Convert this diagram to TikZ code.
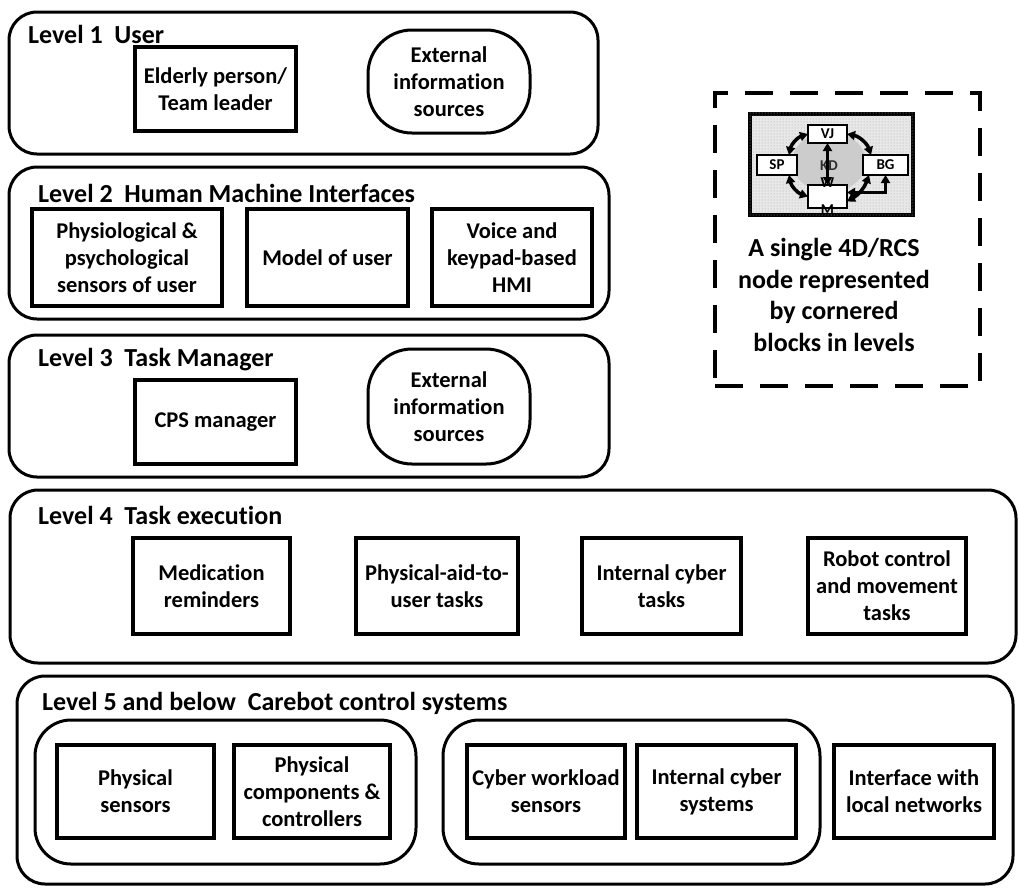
\documentclass[tikz,border=0pt]{standalone}
\usepackage{fontspec}
\setmainfont{Carlito}[Ligatures=NoCommon]
\usetikzlibrary{arrows.meta,patterns,shapes.geometric}

\tikzset{
  level/.style={draw, line width=3pt, rounded corners=28pt, inner sep=0pt, outer sep=0pt},
  group/.style={draw, line width=3pt, rounded corners=36pt, inner sep=0pt, outer sep=0pt},
  block/.style={draw, fill=white, line width=3.5pt, inner sep=2pt, outer sep=0pt, align=center,
                font=\fontsize{22.5}{27}\selectfont\bfseries},
  source/.style={block, line width=3pt, rounded corners=44pt},
  title/.style={anchor=west, inner sep=0pt, font=\fontsize{26}{30}\selectfont\bfseries},
  mini/.style={draw, fill=white, line width=2.5pt, inner sep=0pt, outer sep=0pt,
               font=\fontsize{15}{15}\selectfont\bfseries},
  link/.style={line width=3.5pt, {Triangle[length=8pt,width=9pt]}-{Triangle[length=8pt,width=9pt]}},
}

\begin{document}
\begin{tikzpicture}[x=1pt,y=-1pt]
\useasboundingbox (0,0) rectangle (1019,887);

% ---------- Level 1 ----------
\node[level, minimum width=589pt, minimum height=142pt] (lvl1) at (303.5,83) {};
\node[title] (t1) at (28,34) {Level 1\ \ User};
\node[block, minimum width=161pt, minimum height=84pt] (elderly) at (215.5,89) {Elderly person/\\Team leader};
\node[source, minimum width=162pt, minimum height=103pt] (ext1) at (449,81.5) {External\\information\\sources};

% ---------- Level 2 ----------
\node[level, minimum width=600pt, minimum height=152pt] (lvl2) at (309,243) {};
\node[title] (t2) at (38,193) {Level 2\ \ Human Machine Interfaces};
\node[block, minimum width=190pt, minimum height=97pt] (physio) at (127,257.5) {Physiological \&\\psychological\\sensors of user};
\node[block, minimum width=161pt, minimum height=97pt] (model) at (327.5,257.5) {Model of user};
\node[block, minimum width=160pt, minimum height=97pt] (voice) at (512,257.5) {Voice and\\keypad-based\\HMI};

% ---------- Level 3 ----------
\node[level, minimum width=600pt, minimum height=142pt] (lvl3) at (309,406) {};
\node[title] (t3) at (38,360) {Level 3\ \ Task Manager};
\node[block, minimum width=161pt, minimum height=84pt] (cps) at (215.5,422) {CPS manager};
\node[source, minimum width=162pt, minimum height=115pt] (ext3) at (449,406.5) {External\\information\\sources};

% ---------- Level 4 ----------
\node[level, minimum width=1006pt, minimum height=173pt] (lvl4) at (513,576.5) {};
\node[title] (t4) at (38,515) {Level 4\ \ Task execution};
\node[block, minimum width=157pt, minimum height=96pt] (med) at (211.5,586) {Medication\\reminders};
\node[block, minimum width=162pt, minimum height=96pt] (aid) at (437,586) {Physical-aid-to-\\user tasks};
\node[block, minimum width=159pt, minimum height=96pt] (cybtask) at (661.5,586) {Internal cyber\\tasks};
\node[block, minimum width=158pt, minimum height=96pt] (robot) at (887,586) {Robot control\\and movement\\tasks};

% ---------- Level 5 and below ----------
\node[level, minimum width=996pt, minimum height=208pt] (lvl5) at (515,780) {};
\node[title] (t5) at (42,703) {Level 5 and below\ \ Carebot control systems};
\node[group, minimum width=381pt, minimum height=144pt] (physgrp) at (225.5,792) {};
\node[group, minimum width=377pt, minimum height=144pt] (cybgrp) at (631.5,792) {};
\node[block, minimum width=157pt, minimum height=93pt] (psens) at (135.5,791.5) {Physical\\sensors};
\node[block, minimum width=156pt, minimum height=93pt] (pcomp) at (312,791.5) {Physical\\components \&\\controllers};
\node[block, minimum width=158pt, minimum height=93pt] (cwork) at (546,791.5) {Cyber workload\\sensors};
\node[block, minimum width=159pt, minimum height=93pt] (csys) at (716.5,791.5) {Internal cyber\\systems};
\node[block, minimum width=160pt, minimum height=93pt] (iface) at (914,791.5) {Interface with\\local networks};

% ---------- Legend: one 4D/RCS node ----------
\node[draw, line width=4pt, dash pattern=on 28pt off 17pt, minimum width=265pt, minimum height=293pt,
      inner sep=0pt] (legend) at (847.5,239.5) {};
\node[draw, line width=3.5pt, fill=gray!18, minimum width=163pt, minimum height=101pt, inner sep=0pt] (rcs) at (831.5,164.5) {};
\fill[pattern=dots, pattern color=gray!70] (rcs.south west) rectangle (rcs.north east);
\node[ellipse, fill=gray!40, minimum width=74pt, minimum height=60pt, inner sep=0pt] (core) at (829,162) {};
\node[text=gray!35!black, font=\fontsize{15}{15}\selectfont\bfseries] (kd) at (829,166) {KD};
\node[mini, minimum width=39pt, minimum height=18pt] (vj) at (827.5,134) {VJ};
\node[mini, minimum width=40pt, minimum height=20pt] (sp) at (777,165) {SP};
\node[mini, minimum width=45pt, minimum height=20pt] (bg) at (885.5,165) {BG};
\node[mini, minimum width=39pt, minimum height=23pt] (wm) at (827.5,196.5) {};
\node[font=\fontsize{15}{27}\selectfont\bfseries, align=center, inner sep=0pt] (wmtext) at (wm.center) {W\\M};
\draw[link] (vj.west) to[bend right=30] ([xshift=-8pt]sp.north east);
\draw[link] (vj.east) to[bend left=30] ([xshift=8pt]bg.north west);
\draw[link] ([xshift=-8pt]sp.south east) to[bend right=30] (wm.west);
\draw[link] ([yshift=-5pt]wm.east) to[bend right=20] ([xshift=6pt]bg.south west);
\draw[link] ([yshift=4pt]wm.east) -| (bg.south);
\draw[link] (vj.south) -- (wm.north);
\node[align=center, inner sep=0pt, font=\fontsize{26}{31.5}\selectfont\bfseries] (caption) at (834,295)
  {A single 4D/RCS\\node represented\\by cornered\\blocks in levels};
\end{tikzpicture}
\end{document}
